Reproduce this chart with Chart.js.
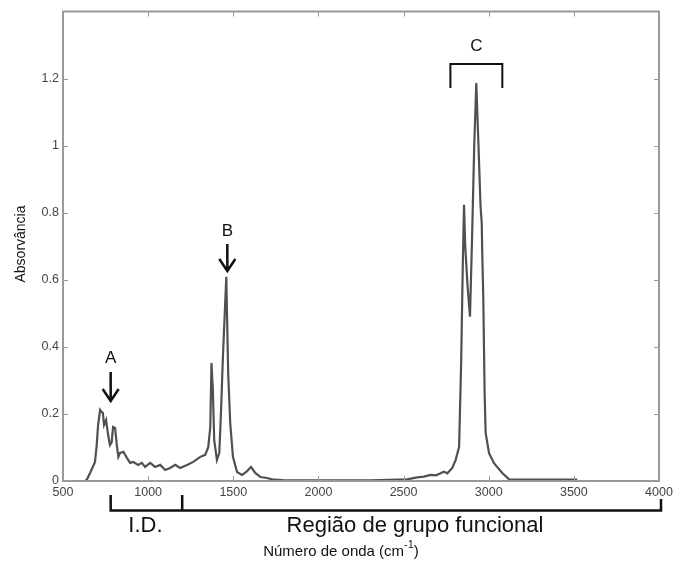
<!DOCTYPE html>
<html>
<head>
<meta charset="utf-8">
<script src="https://cdn.jsdelivr.net/npm/chart.js@4.4.1/dist/chart.umd.min.js"></script>
<style>
  html, body { margin: 0; padding: 0; background: #fff; }
  #wrap { width: 677px; height: 564px; position: relative; }
</style>
</head>
<body>
<div id="wrap"><canvas id="ir"></canvas></div>
<script>
// IR spectrum: wavenumber (cm-1) vs absorbance
var wavenumber = [630, 641, 659, 688, 698, 706, 718, 728, 734, 741, 753, 765, 776, 786, 794, 806, 816, 825, 835, 855,
  875, 894, 912, 941, 963, 982, 1012, 1041, 1071, 1100, 1129, 1159, 1188, 1228, 1265, 1306, 1335, 1353, 1365, 1372,
  1380, 1388, 1404, 1418, 1429, 1439, 1459, 1470, 1482, 1498, 1522, 1551, 1576, 1604, 1629, 1659, 1698, 1728, 1800, 2000,
  2300, 2521, 2580, 2620, 2659, 2690, 2718, 2736, 2757, 2786, 2806, 2826, 2838, 2848, 2855, 2862, 2876, 2890, 2902, 2915, 2927, 2940,
  2952, 2959, 2962, 2968, 2976, 2982, 3002, 3031, 3081, 3120, 3300, 3520];
var absorbance = [0.0, 0.005, 0.024, 0.057, 0.107, 0.167, 0.212, 0.205, 0.203, 0.167, 0.182, 0.137, 0.107, 0.116, 0.161, 0.158, 0.107, 0.072, 0.084, 0.087,
  0.069, 0.054, 0.057, 0.048, 0.054, 0.042, 0.054, 0.042, 0.048, 0.033, 0.039, 0.048, 0.039, 0.048, 0.057, 0.072, 0.078, 0.101, 0.161, 0.352,
  0.272, 0.122, 0.063, 0.084, 0.221, 0.370, 0.609, 0.322, 0.173, 0.072, 0.027, 0.018, 0.027, 0.042, 0.024, 0.012, 0.009, 0.005, 0.002, 0.002,
  0.002, 0.005, 0.011, 0.013, 0.018, 0.017, 0.023, 0.028, 0.023, 0.039, 0.063, 0.102, 0.35, 0.65, 0.824, 0.70, 0.58, 0.49, 0.72, 1.0, 1.187, 1.0,
  0.82, 0.769, 0.68, 0.55, 0.26, 0.143, 0.083, 0.053, 0.023, 0.005, 0.004, 0.004];

var xTicks = [500, 1000, 1500, 2000, 2500, 3000, 3500, 4000];
var yTicks = [0, 0.2, 0.4, 0.6, 0.8, 1, 1.2];

// peak markers: label and wavenumber(s) where the arrow / bracket sits
var peakA = ['A', 780];
var peakB = ['B', 1465];
var peakC = ['C', 2775, 3080];
// regions under the axis
var regionID = ['I.D.', 780, 1200];
var regionGF = ['Região de grupo funcional', 1200, 4000];

var FONT = '"Liberation Sans", Arial, sans-serif';
var AXIS_GRAY = '#9a9a9a';

var spectrum = wavenumber.map(function (w, i) { return { x: w, y: absorbance[i] }; });

function arrowDown(ctx, x, y0, y1) {
  ctx.beginPath();
  ctx.moveTo(x, y0);
  ctx.lineTo(x, y1);
  ctx.moveTo(x - 8, y1 - 12);
  ctx.lineTo(x, y1);
  ctx.lineTo(x + 8, y1 - 12);
  ctx.stroke();
}

var decorations = {
  id: 'decorations',
  afterDraw: function (chart) {
    var ctx = chart.ctx;
    var a = chart.chartArea;
    var xs = chart.scales.x, ys = chart.scales.y;
    ctx.save();

    // box with inward ticks on all four sides
    ctx.strokeStyle = AXIS_GRAY;
    ctx.lineWidth = 2;
    ctx.strokeRect(a.left, a.top, a.right - a.left, a.bottom - a.top);
    ctx.lineWidth = 1;
    ctx.beginPath();
    xTicks.forEach(function (t) {
      var px = Math.round(xs.getPixelForValue(t)) + 0.5;
      ctx.moveTo(px, a.bottom); ctx.lineTo(px, a.bottom - 5);
      ctx.moveTo(px, a.top); ctx.lineTo(px, a.top + 5);
    });
    yTicks.forEach(function (t) {
      var py = Math.round(ys.getPixelForValue(t)) + 0.5;
      ctx.moveTo(a.left, py); ctx.lineTo(a.left + 5, py);
      ctx.moveTo(a.right, py); ctx.lineTo(a.right - 5, py);
    });
    ctx.stroke();

    // peak labels
    ctx.strokeStyle = '#111';
    ctx.fillStyle = '#111';
    ctx.lineWidth = 2.5;
    ctx.font = '17px ' + FONT;
    ctx.textAlign = 'center';
    ctx.textBaseline = 'middle';

    var ax = xs.getPixelForValue(peakA[1]);
    ctx.fillText(peakA[0], ax, 358);
    arrowDown(ctx, ax, 372, 401);

    var bx = xs.getPixelForValue(peakB[1]);
    ctx.fillText(peakB[0], bx, 231);
    arrowDown(ctx, bx, 244, 271);

    var c0 = xs.getPixelForValue(peakC[1]), c1 = xs.getPixelForValue(peakC[2]);
    ctx.fillText(peakC[0], (c0 + c1) / 2, 46);
    ctx.lineWidth = 2;
    ctx.beginPath();
    ctx.moveTo(c0, 88); ctx.lineTo(c0, 64); ctx.lineTo(c1, 64); ctx.lineTo(c1, 88);
    ctx.stroke();

    // region brackets below the axis
    var r0 = xs.getPixelForValue(regionID[1]);
    var r1 = xs.getPixelForValue(regionID[2]);
    var r2 = xs.getPixelForValue(regionGF[2]) + 2;
    ctx.lineWidth = 2.5;
    ctx.beginPath();
    ctx.moveTo(r0, 495); ctx.lineTo(r0, 510.5); ctx.lineTo(r2, 510.5); ctx.lineTo(r2, 499);
    ctx.moveTo(r1, 495); ctx.lineTo(r1, 510.5);
    ctx.stroke();

    ctx.font = '22px ' + FONT;
    ctx.textBaseline = 'alphabetic';
    ctx.fillText(regionID[0], (r0 + r1) / 2 - 1, 532);
    ctx.fillText(regionGF[0], 415, 532);

    // axis titles
    ctx.font = '15px ' + FONT;
    ctx.textAlign = 'left';
    var main = 'Número de onda (cm', tail = ')';
    var w1 = ctx.measureText(main).width;
    ctx.font = '11px ' + FONT;
    var ws = ctx.measureText('-1').width;
    ctx.font = '15px ' + FONT;
    var w2 = ctx.measureText(tail).width;
    var sx = 341 - (w1 + ws + w2) / 2;
    ctx.fillText(main, sx, 556);
    ctx.font = '11px ' + FONT;
    ctx.fillText('-1', sx + w1, 548);
    ctx.font = '15px ' + FONT;
    ctx.fillText(tail, sx + w1 + ws, 556);

    ctx.font = '14px ' + FONT;
    ctx.translate(21, 244);
    ctx.rotate(-Math.PI / 2);
    ctx.textAlign = 'center';
    ctx.textBaseline = 'middle';
    ctx.fillText('Absorvância', 0, 0);

    ctx.restore();
  }
};

new Chart(document.getElementById('ir'), {
  type: 'line',
  data: {
    datasets: [{
      data: spectrum,
      borderColor: '#505050',
      borderWidth: 2.2,
      pointRadius: 0,
      tension: 0,
      fill: false
    }]
  },
  options: {
    responsive: true,
    maintainAspectRatio: false,
    animation: false,
    layout: { padding: { left: 0, right: 18, top: 11, bottom: 0 } },
    plugins: { legend: { display: false }, tooltip: { enabled: false } },
    scales: {
      x: {
        type: 'linear',
        min: 500, max: 4000,
        afterFit: function (s) { s.height = 83; },
        afterBuildTicks: function (s) { s.ticks = xTicks.map(function (v) { return { value: v }; }); },
        grid: { display: false, drawTicks: false },
        border: { display: false },
        ticks: {
          padding: 4,
          color: '#444',
          font: { family: FONT, size: 12.5 },
          maxRotation: 0,
          callback: function (v) { return String(v); }
        }
      },
      y: {
        min: 0, max: 1.4,
        afterFit: function (s) { s.width = 63; },
        afterBuildTicks: function (s) { s.ticks = yTicks.map(function (v) { return { value: v }; }); },
        grid: { display: false, drawTicks: false },
        border: { display: false },
        ticks: {
          padding: 4,
          color: '#444',
          font: { family: FONT, size: 12.5 },
          callback: function (v) { return String(Math.round(v * 10) / 10); }
        }
      }
    }
  },
  plugins: [decorations]
});
</script>
</body>
</html>
